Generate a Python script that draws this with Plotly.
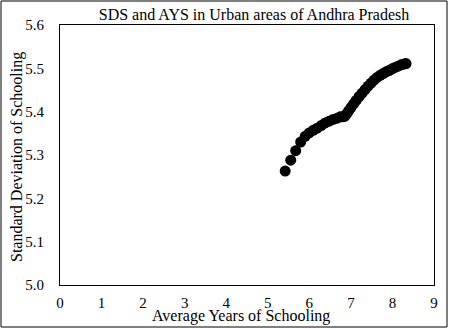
import plotly.graph_objects as go

# Average Years of Schooling (x) and Standard Deviation of Schooling (y)
ays = [5.419, 5.552, 5.672, 5.792, 5.900, 5.996, 6.092, 6.188, 6.285, 6.381,
       6.477, 6.573, 6.669, 6.741, 6.801, 6.849, 6.897, 6.945, 7.006, 7.066,
       7.126, 7.198, 7.270, 7.342, 7.414, 7.486, 7.558, 7.630, 7.703, 7.775,
       7.847, 7.919, 7.991, 8.063, 8.135, 8.207, 8.279, 8.327]
sds = [5.263, 5.288, 5.310, 5.330, 5.343, 5.351, 5.357, 5.362, 5.368, 5.374,
       5.378, 5.382, 5.385, 5.388, 5.388, 5.389, 5.395, 5.402, 5.410, 5.418,
       5.426, 5.435, 5.443, 5.451, 5.459, 5.466, 5.473, 5.479, 5.484, 5.488,
       5.492, 5.495, 5.499, 5.502, 5.505, 5.508, 5.510, 5.511]

x_ticks = [0, 1, 2, 3, 4, 5, 6, 7, 8, 9]
y_ticks = [5.0, 5.1, 5.2, 5.3, 5.4, 5.5, 5.6]

FONT = "Times New Roman"

fig = go.Figure()
fig.add_trace(go.Scatter(
    x=ays, y=sds, mode="markers",
    marker=dict(color="black", size=11, line=dict(width=0)),
    showlegend=False,
))

W, H = 450, 329
L, R, T, B = 60, 16, 25, 44
pw, ph = W - L - R, H - T - B

def px_x(p):
    return (p - L) / pw

def px_y(p):
    return (H - B - p) / ph

fig.update_layout(
    width=W, height=H,
    margin=dict(l=L, r=R, t=T, b=B, pad=0),
    paper_bgcolor="white", plot_bgcolor="white",
    font=dict(family=FONT, size=15, color="black"),
    title=dict(text="SDS and AYS in Urban areas of Andhra Pradesh",
               x=254 / W, xanchor="center", y=1 - 14 / H, yanchor="middle",
               font=dict(family=FONT, size=16, color="black")),
    xaxis=dict(range=[0, 9], tickvals=x_ticks, showgrid=False, zeroline=False,
               showline=True, linecolor="black", linewidth=1, mirror=True,
               ticks="", ticklabelstandoff=4,
               tickfont=dict(family=FONT, size=15, color="black"),
               automargin=False),
    yaxis=dict(range=[5.0, 5.6], tickvals=y_ticks, tickformat=".1f",
               showgrid=False, zeroline=False,
               showline=True, linecolor="black", linewidth=1, mirror=True,
               ticks="", ticklabelstandoff=12,
               tickfont=dict(family=FONT, size=15, color="black"),
               automargin=False),
    annotations=[
        dict(text="Average Years of Schooling", xref="paper", yref="paper",
             x=px_x(241), y=px_y(316), xanchor="center", yanchor="middle",
             showarrow=False, font=dict(family=FONT, size=16, color="black")),
        dict(text="Standard Deviation of Schooling", xref="paper", yref="paper",
             x=px_x(17), y=px_y(157), xanchor="center", yanchor="middle",
             textangle=-90, showarrow=False,
             font=dict(family=FONT, size=16, color="black")),
    ],
)

# outer frame around the whole figure
fig.add_shape(type="rect", xref="paper", yref="paper",
              x0=px_x(1), x1=px_x(447), y0=px_y(327), y1=px_y(1),
              line=dict(color="black", width=1), fillcolor="rgba(0,0,0,0)")

fig.write_html("out.html",
               config={"displayModeBar": False, "staticPlot": True},
               post_script="document.body.style.margin='0';document.body.style.overflow='hidden';")
